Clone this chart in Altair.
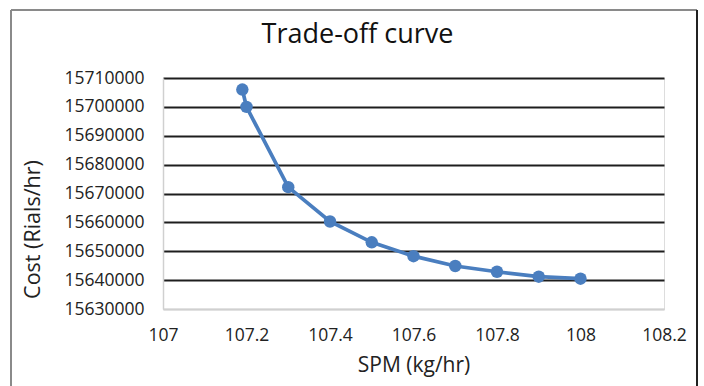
import altair as alt
import pandas as pd

spm = [107.19, 107.2, 107.3, 107.4, 107.5, 107.6, 107.7, 107.8, 107.9, 108.0]
cost = [15706000, 15700000, 15672200, 15660300, 15653100, 15648300, 15644900, 15642900, 15641200, 15640500]
x_ticks = [107, 107.2, 107.4, 107.6, 107.8, 108, 108.2]
y_ticks = [15630000, 15640000, 15650000, 15660000, 15670000, 15680000, 15690000, 15700000, 15710000]

df = pd.DataFrame({"spm": spm, "cost": cost})
FONT = "Open Sans"
BLUE = "#4A7EBF"

x_enc = alt.X("spm:Q", scale=alt.Scale(domain=[107, 108.2], nice=False, zero=False),
              axis=alt.Axis(values=x_ticks, tickCount=20, format="~f", title="SPM (kg/hr)", grid=False,
                            ticks=False, domainColor="#d0d0d0", domainWidth=1.5, labelOverlap=False,
                            labelFlush=False, labelBound=False,
                            labelFontSize=17.5, labelPadding=17, labelColor="#222",
                            titleFontSize=21, titleFontWeight="normal", titleColor="#222",
                            titlePadding=11, labelFont=FONT, titleFont=FONT))
y_enc = alt.Y("cost:Q", scale=alt.Scale(domain=[15630000, 15710000], nice=False, zero=False),
              axis=alt.Axis(values=y_ticks, tickCount=20, format="d", title="Cost (Rials/hr)", grid=True,
                            gridColor={"condition": {"test": "datum.value <= 15630000", "value": "#d0d0d0"}, "value": "#1e1e1e"},
                            gridWidth=2, ticks=False, domainColor="#d0d0d0", domainWidth=1.5, labelOverlap=False,
                            labelFlush=False, labelBound=False,
                            labelFontSize=17.5, labelPadding=19, labelColor="#222",
                            titleFontSize=21.5, titleFontWeight="normal", titleColor="#222",
                            titleX=-119, titleY=151, labelFont=FONT, titleFont=FONT))

line = alt.Chart(df).mark_line(color=BLUE, strokeWidth=3.7).encode(x=x_enc, y=y_enc)
pts = alt.Chart(df).mark_circle(color=BLUE, size=155, opacity=1).encode(x="spm:Q", y="cost:Q")

frame_left = alt.Chart(df).mark_rule(color="#8a8a8a", strokeWidth=1.5).encode(
    x=alt.value(-152), y=alt.value(-68), y2=alt.value(330))
frame_top = alt.Chart(df).mark_rule(color="#8a8a8a", strokeWidth=1.5).encode(
    x=alt.value(-152), x2=alt.value(534), y=alt.value(-68))
frame_right = alt.Chart(df).mark_rule(color="#222", strokeWidth=1.5).encode(
    x=alt.value(534), y=alt.value(-68), y2=alt.value(330))

chart = alt.layer(line, pts, frame_left, frame_top, frame_right).properties(
    width=501, height=231,
    title=alt.TitleParams("Trade-off curve", fontSize=27, font=FONT, fontWeight="normal",
                          color="#111", anchor="middle", dx=-56, dy=40, offset=0),
    autosize=alt.AutoSizeParams(type="none"),
    padding={"left": 163, "top": 78, "right": 40, "bottom": 77},
).configure_view(stroke=None).configure(background="white")

chart.save("out.html", embed_options={"renderer": "svg", "actions": False})
